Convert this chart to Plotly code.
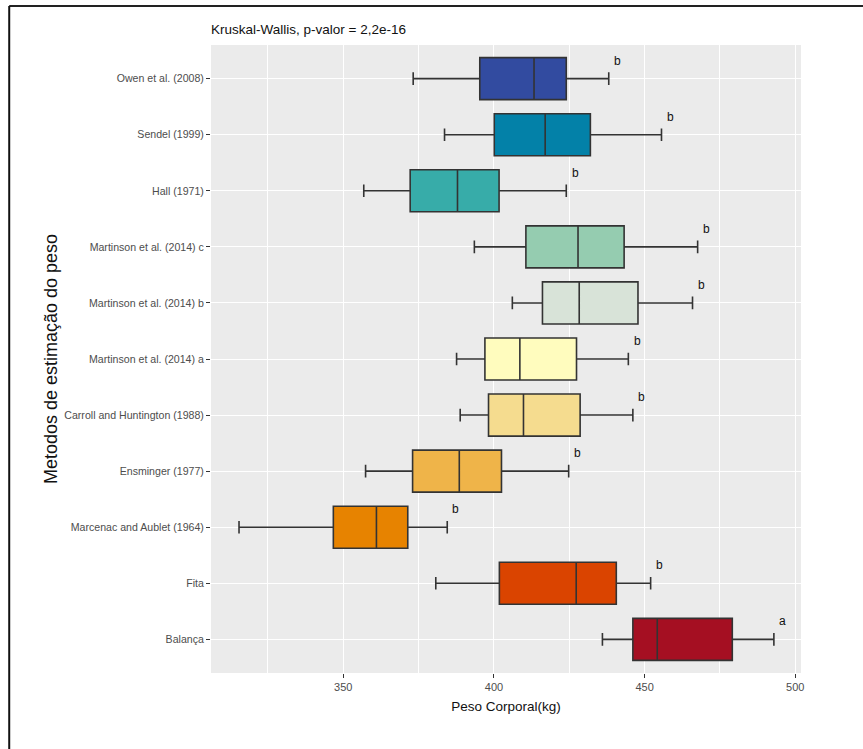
import plotly.graph_objects as go

# Estimation methods, listed from top row to bottom row
methods = [
    "Owen et al. (2008)",
    "Sendel (1999)",
    "Hall (1971)",
    "Martinson et al. (2014) c",
    "Martinson et al. (2014) b",
    "Martinson et al. (2014) a",
    "Carroll and Huntington (1988)",
    "Ensminger (1977)",
    "Marcenac and Aublet (1964)",
    "Fita",
    "Balança",
]

# Box statistics (kg)
lower = [373.2, 383.6, 356.8, 393.5, 406.1, 387.6, 388.8, 357.4, 315.4, 380.7, 436.0]
q1 = [395.3, 400.1, 372.2, 410.6, 416.1, 397.0, 398.2, 373.0, 346.7, 401.8, 446.1]
median = [413.3, 417.0, 387.9, 427.9, 428.3, 408.6, 409.8, 388.5, 361.0, 427.3, 454.2]
q3 = [424.0, 432.0, 401.7, 443.2, 447.8, 427.4, 428.6, 402.5, 371.4, 440.6, 479.1]
upper = [438.1, 455.6, 424.0, 467.6, 465.9, 444.6, 446.1, 424.8, 384.5, 452.0, 492.9]

# Post-hoc group letters
letters = ["b", "b", "b", "b", "b", "b", "b", "b", "b", "b", "a"]

fills = ["#324BA0", "#0381A8", "#37ACA9", "#95CCB0", "#D8E3D8", "#FFFCBE",
         "#F5DC8F", "#EFB449", "#E78300", "#DA4400", "#A50F22"]

FONT = "Liberation Sans, Arial, sans-serif"

fig = go.Figure()
for i, m in enumerate(methods):
    fig.add_trace(go.Box(
        y=[m], orientation="h",
        q1=[q1[i]], median=[median[i]], q3=[q3[i]],
        lowerfence=[lower[i]], upperfence=[upper[i]],
        fillcolor=fills[i],
        line=dict(color="#333333", width=1.6),
        width=0.75, whiskerwidth=0.3,
        boxpoints=False, showlegend=False, hoverinfo="skip",
    ))

for i, m in enumerate(methods):
    fig.add_annotation(
        x=upper[i] + 2.9, y=m, text=letters[i], showarrow=False,
        xanchor="center", yanchor="middle", yshift=18,
        font=dict(family=FONT, size=12, color="#111111"),
    )

# Frame lines along the top and left of the page
fig.add_shape(type="line", xref="paper", yref="paper",
              x0=-0.342, x1=1.2, y0=1.062, y1=1.062,
              line=dict(color="#222222", width=2))
fig.add_shape(type="line", xref="paper", yref="paper",
              x0=-0.342, x1=-0.342, y0=-0.2, y1=1.062,
              line=dict(color="#111111", width=2))

fig.update_layout(
    width=863, height=749,
    margin=dict(l=211, r=62, t=45, b=76),
    paper_bgcolor="white",
    plot_bgcolor="#EBEBEB",
    title=dict(text="Kruskal-Wallis, p-valor = 2,2e-16",
               x=211 / 863, xanchor="left", y=1 - 29 / 749, yanchor="middle",
               font=dict(family=FONT, size=13.5, color="#111111")),
    xaxis=dict(
        range=[306.1, 501.9], tick0=350, dtick=50,
        showgrid=True, gridcolor="white", gridwidth=1.1,
        minor=dict(dtick=25, tick0=325, showgrid=True, gridcolor="white",
                   gridwidth=0.5, ticks=""),
        ticks="outside", ticklen=4, tickwidth=1, tickcolor="#333333",
        tickfont=dict(family=FONT, size=11, color="#4D4D4D"),
        zeroline=False, showline=False,
        title=dict(text="Peso Corporal(kg)", standoff=9,
                   font=dict(family=FONT, size=13.5, color="#111111")),
    ),
    yaxis=dict(
        type="category", categoryorder="array",
        categoryarray=methods[::-1],
        range=[-0.6, len(methods) - 0.4],
        showgrid=True, gridcolor="white", gridwidth=1.1,
        ticks="outside", ticklen=4, tickwidth=1, tickcolor="#333333",
        tickfont=dict(family=FONT, size=10.6, color="#4D4D4D"),
        zeroline=False, showline=False,
        title=dict(text="Metodos de estimação do peso", standoff=2,
                   font=dict(family=FONT, size=18, color="#111111")),
    ),
)

fig.write_html("out.html")
